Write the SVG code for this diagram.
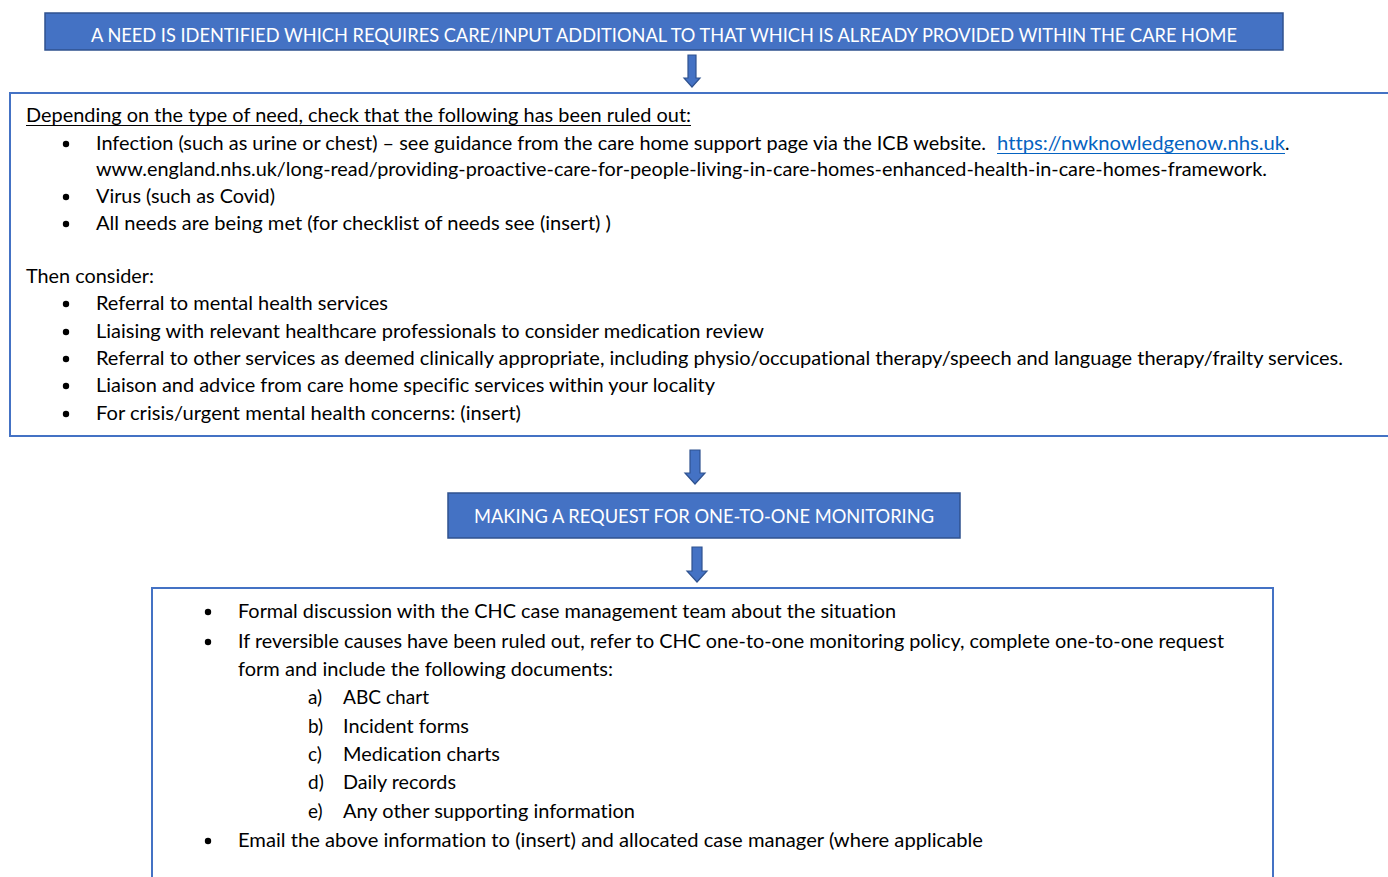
<svg xmlns="http://www.w3.org/2000/svg" width="1388" height="877" viewBox="0 0 1388 877">
  <style>
    .banner { fill: #4472C4; stroke: #2F528F; stroke-width: 1.5; }
    .panel { fill: #FFFFFF; stroke: #4472C4; stroke-width: 2; }
    .arrow { fill: #4472C4; stroke: #2F528F; stroke-width: 1.2; stroke-linejoin: miter; }
    .t, .tw { font-family: Lato, "Liberation Sans", sans-serif; font-size: 19px; font-variant-ligatures: none; font-feature-settings: "liga" 0, "dlig" 0; }
    .t { fill: #000000; }
    .tw { fill: #FFFFFF; }
    .link { fill: #0563C1; }
    .dot { fill: #000000; }
    .ul { stroke: #000000; stroke-width: 1.2; }
    .ulink { stroke: #0563C1; stroke-width: 1.2; }
  </style>

  <!-- Step 1: need identified -->
  <g id="need-identified">
    <rect class="banner" x="45" y="13" width="1238" height="37"/>
    <text class="tw" x="91" y="41.5" textLength="1146" lengthAdjust="spacingAndGlyphs">A NEED IS IDENTIFIED WHICH REQUIRES CARE/INPUT ADDITIONAL TO THAT WHICH IS ALREADY PROVIDED WITHIN THE CARE HOME</text>
  </g>

  <!-- Step 2: rule out causes, then consider -->
  <g id="rule-out-checks">
    <rect class="panel" x="10" y="93" width="1400" height="343"/>
    <text class="t" x="26" y="121.5" textLength="665" lengthAdjust="spacingAndGlyphs">Depending on the type of need, check that the following has been ruled out:</text>
    <line class="ul" x1="26" y1="125.5" x2="691" y2="125.5"/>

    <circle class="dot" cx="66" cy="144" r="3.2"/>
    <text class="t" x="96" y="149.5" textLength="890" lengthAdjust="spacingAndGlyphs">Infection (such as urine or chest) – see guidance from the care home support page via the ICB website.</text>
    <text class="t link" x="997" y="149.5" textLength="288" lengthAdjust="spacingAndGlyphs">https://nwknowledgenow.nhs.uk</text>
    <line class="ulink" x1="997" y1="153.5" x2="1285" y2="153.5"/>
    <text class="t" x="1285" y="149.5">.</text>
    <text class="t" x="96" y="175.5" textLength="1171" lengthAdjust="spacingAndGlyphs">www.england.nhs.uk/long-read/providing-proactive-care-for-people-living-in-care-homes-enhanced-health-in-care-homes-framework.</text>

    <circle class="dot" cx="66" cy="197" r="3.2"/>
    <text class="t" x="96" y="202.5" textLength="179" lengthAdjust="spacingAndGlyphs">Virus (such as Covid)</text>

    <circle class="dot" cx="66" cy="224" r="3.2"/>
    <text class="t" x="96" y="229.5" textLength="515" lengthAdjust="spacingAndGlyphs">All needs are being met (for checklist of needs see (insert) )</text>

    <text class="t" x="26" y="282.5" textLength="128" lengthAdjust="spacingAndGlyphs">Then consider:</text>

    <circle class="dot" cx="66" cy="304" r="3.2"/>
    <text class="t" x="96" y="309.5" textLength="292" lengthAdjust="spacingAndGlyphs">Referral to mental health services</text>

    <circle class="dot" cx="66" cy="332" r="3.2"/>
    <text class="t" x="96" y="337.5" textLength="668" lengthAdjust="spacingAndGlyphs">Liaising with relevant healthcare professionals to consider medication review</text>

    <circle class="dot" cx="66" cy="359" r="3.2"/>
    <text class="t" x="96" y="364.5" textLength="1247" lengthAdjust="spacingAndGlyphs">Referral to other services as deemed clinically appropriate, including physio/occupational therapy/speech and language therapy/frailty services.</text>

    <circle class="dot" cx="66" cy="386" r="3.2"/>
    <text class="t" x="96" y="391.5" textLength="619" lengthAdjust="spacingAndGlyphs">Liaison and advice from care home specific services within your locality</text>

    <circle class="dot" cx="66" cy="414" r="3.2"/>
    <text class="t" x="96" y="419.5" textLength="425" lengthAdjust="spacingAndGlyphs">For crisis/urgent mental health concerns: (insert)</text>
  </g>

  <!-- Step 3: request heading -->
  <g id="request-heading">
    <rect class="banner" x="448" y="493" width="512" height="45"/>
    <text class="tw" x="474" y="522.5" textLength="460" lengthAdjust="spacingAndGlyphs">MAKING A REQUEST FOR ONE-TO-ONE MONITORING</text>
  </g>

  <!-- Step 4: request actions -->
  <g id="request-actions">
    <rect class="panel" x="152" y="588" width="1121" height="310"/>
    <circle class="dot" cx="208" cy="612" r="3.2"/>
    <text class="t" x="238" y="617.5" textLength="658" lengthAdjust="spacingAndGlyphs">Formal discussion with the CHC case management team about the situation</text>

    <circle class="dot" cx="208" cy="642" r="3.2"/>
    <text class="t" x="238" y="647.5" textLength="986" lengthAdjust="spacingAndGlyphs">If reversible causes have been ruled out, refer to CHC one-to-one monitoring policy, complete one-to-one request</text>
    <text class="t" x="238" y="675.5" textLength="375" lengthAdjust="spacingAndGlyphs">form and include the following documents:</text>

    <text class="t" x="308" y="703.5">a)</text>
    <text class="t" x="343" y="703.5" textLength="86" lengthAdjust="spacingAndGlyphs">ABC chart</text>
    <text class="t" x="308" y="732.5">b)</text>
    <text class="t" x="343" y="732.5" textLength="126" lengthAdjust="spacingAndGlyphs">Incident forms</text>
    <text class="t" x="308" y="760.5">c)</text>
    <text class="t" x="343" y="760.5" textLength="157" lengthAdjust="spacingAndGlyphs">Medication charts</text>
    <text class="t" x="308" y="788.5">d)</text>
    <text class="t" x="343" y="788.5" textLength="113" lengthAdjust="spacingAndGlyphs">Daily records</text>
    <text class="t" x="308" y="817.5">e)</text>
    <text class="t" x="343" y="817.5" textLength="292" lengthAdjust="spacingAndGlyphs">Any other supporting information</text>

    <circle class="dot" cx="208" cy="841" r="3.2"/>
    <text class="t" x="238" y="846.5" textLength="745" lengthAdjust="spacingAndGlyphs">Email the above information to (insert) and allocated case manager (where applicable</text>
  </g>

  <!-- Block arrows between steps -->
  <g id="connectors">
    <path class="arrow" d="M688,55 H696 V78 H700 L692,87 L684,78 H688 Z"/>
    <path class="arrow" d="M690,450 H700 V473 H705 L695,484 L685,473 H690 Z"/>
    <path class="arrow" d="M692,547 H702 V571 H707 L697,582 L687,571 H692 Z"/>
  </g>
</svg>
